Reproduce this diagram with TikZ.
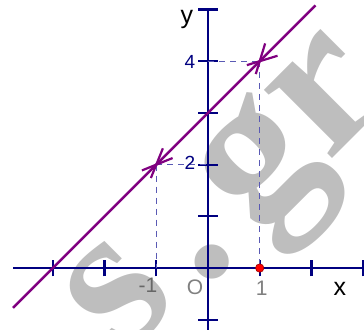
\documentclass[tikz,border=0pt]{standalone}
\usepackage{fontspec}
\setmainfont{Liberation Sans}
\newfontfamily\wmfont{Liberation Serif}
\definecolor{axisblue}{RGB}{0,0,128}
\definecolor{dashblue}{RGB}{90,90,180}
\definecolor{linepurple}{RGB}{128,0,128}
\definecolor{labgray}{RGB}{128,128,128}
\definecolor{wmgray}{RGB}{190,190,190}
\tikzset{
  axisline/.style={draw=axisblue, line width=2.4pt},
  tickmark/.style={draw=axisblue, line width=2.2pt},
  guide/.style={draw=dashblue, line width=1.4pt, dash pattern=on 6pt off 5pt},
  graphline/.style={draw=linepurple, line width=2.4pt},
  barb/.style={draw=linepurple, line width=2.2pt},
  numlab/.style={text=axisblue, font=\fontsize{19}{19}\selectfont, inner sep=0pt},
  graylab/.style={text=labgray, font=\fontsize{21}{21}\selectfont, inner sep=0pt},
  axislab/.style={text=black, font=\fontsize{25}{25}\selectfont, inner sep=0pt},
  wm/.style={text=wmgray, font=\wmfont\bfseries\fontsize{210}{210}\selectfont, inner sep=0pt, rotate=45},
}
\begin{document}
\begin{tikzpicture}[x=51.7pt,y=51.7pt]
\useasboundingbox (-4.023,-1.18) rectangle (3.017,5.184);
\begin{scope}
\clip (-4.023,-1.18) rectangle (3.017,5.184);
% watermark
\node[wm] (wms) at (-1.74,-0.52) {s};
\node[wm] (wmdot) at (0.077,0.116) {.};
\node[wm] (wmg) at (1.22,1.74) {g};
\node[wm] (wmr) at (2.28,3.36) {r};
% axes
\coordinate (xl) at (-3.77,0);
\coordinate (xr) at (3.1,0);
\coordinate (yb) at (0,-1.25);
\coordinate (yt) at (0,5.03);
\draw[axisline] (xl) -- (xr);
\draw[axisline] (yb) -- (yt);
\foreach \i in {-3,-2,-1,1,2,3}
  \draw[tickmark] (\i,-0.16) -- (\i,0.16);
\foreach \j in {-1,1,2,3,4,5}
  \draw[tickmark] (-0.19,\j) -- (0.19,\j);
% points
\coordinate (A) at (1,4);
\coordinate (B) at (-1,2);
\coordinate (Ax) at (1,0);
\coordinate (Ay) at (0,4);
\coordinate (Bx) at (-1,0);
\coordinate (By) at (0,2);
% guides
\draw[guide] (Ay) -- (A);
\draw[guide] (A) -- (Ax);
\draw[guide] (B) -- (By);
\draw[guide] (B) -- (Bx);
% the line y = x + 3
\coordinate (L1) at (-3.77,-0.77);
\coordinate (L2) at (2.08,5.08);
\draw[graphline] (L1) -- (L2);
% arrow marks
\draw[barb] (A) ++(197:0.26) -- ++(17:0.62);
\draw[barb] (A) ++(253:0.26) -- ++(73:0.62);
\draw[barb] (B) ++(202:0.30) -- ++(22:0.64);
\draw[barb] (B) ++(248:0.28) -- ++(68:0.62);
% red point
\fill[red, draw=red!60!black, line width=0.6pt] (Ax) circle (4.2pt);
% labels
\node[numlab] (l4) at (-0.35,3.98) {4};
\node[numlab] (l2) at (-0.35,2.03) {2};
\node[graylab, text=labgray!80!black] (lm1) at (-1.16,-0.33) {-1};
\node[graylab] (l1) at (1.04,-0.39) {1};
\node[graylab] (lO) at (-0.25,-0.37) {O};
\node[axislab] (lx) at (2.55,-0.41) {x};
\node[axislab] (ly) at (-0.41,4.80) {y};
\end{scope}
\end{tikzpicture}
\end{document}
